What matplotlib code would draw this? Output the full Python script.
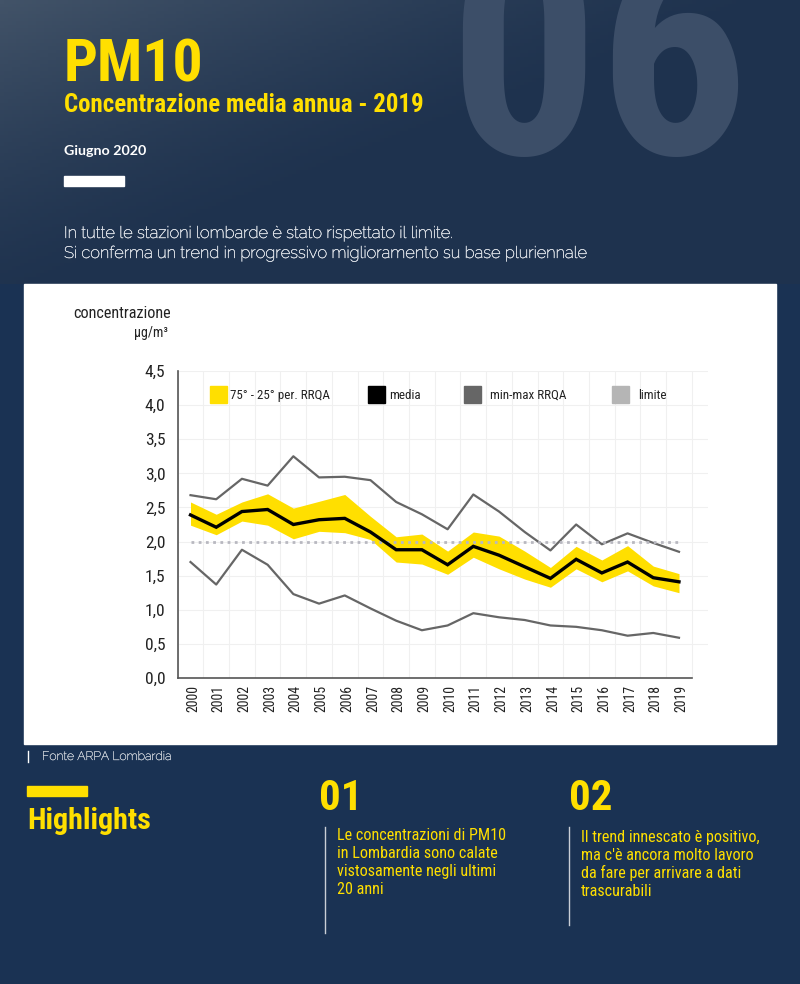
import matplotlib
matplotlib.use('Agg')
import matplotlib.pyplot as plt
import matplotlib.patches as patches
import matplotlib.patheffects as pe
from matplotlib.transforms import ScaledTranslation
import numpy as np

anni = list(range(2000, 2020))
massimo = [2.68, 2.62, 2.92, 2.82, 3.25, 2.94, 2.95, 2.90, 2.58, 2.40, 2.18, 2.69, 2.44, 2.14, 1.87, 2.25, 1.96, 2.12, 1.98, 1.85]
minimo = [1.70, 1.37, 1.88, 1.66, 1.23, 1.09, 1.21, 1.02, 0.84, 0.70, 0.77, 0.95, 0.89, 0.85, 0.77, 0.75, 0.70, 0.62, 0.66, 0.59]
media = [2.39, 2.21, 2.44, 2.47, 2.25, 2.32, 2.34, 2.14, 1.88, 1.88, 1.66, 1.93, 1.80, 1.63, 1.46, 1.74, 1.54, 1.70, 1.47, 1.41]
p75 = [2.58, 2.40, 2.58, 2.70, 2.49, 2.59, 2.69, 2.37, 2.07, 2.11, 1.86, 2.14, 2.08, 1.86, 1.62, 1.93, 1.73, 1.94, 1.64, 1.53]
p25 = [2.24, 2.10, 2.30, 2.24, 2.04, 2.15, 2.13, 2.03, 1.70, 1.67, 1.52, 1.77, 1.60, 1.45, 1.33, 1.60, 1.41, 1.57, 1.35, 1.25]
limite = 2.0
y_ticks = [0, 0.5, 1, 1.5, 2, 2.5, 3, 3.5, 4, 4.5]
y_labels = ['0,0', '0,5', '1,0', '1,5', '2,0', '2,5', '3,0', '3,5', '4,0', '4,5']

NARROW = ['Roboto Condensed', 'Barlow Condensed', 'Roboto']
BODY = ['Raleway', 'Lato']
YELLOW = '#ffdf00'
NAVY = '#1a3253'
W, H = 800, 984

fig = plt.figure(figsize=(W / 100, H / 100), dpi=100, facecolor=NAVY)

# pixel coordinate layer for the page around the chart
bg = fig.add_axes([0, 0, 1, 1])
bg.axis('off')

# header gradient, lighter at the top left
gx, gy = np.meshgrid(np.linspace(0, 1, 200), np.linspace(0, 1, 80))
shade = np.clip(1 - (1.0 * gx + 0.9 * gy), 0, 1) ** 1.4
c0 = np.array([0x1e, 0x32, 0x4e]) / 255
c1 = np.array([0x42, 0x53, 0x68]) / 255
grad = c0 + (c1 - c0) * shade[..., None]
bg.imshow(grad, extent=[0, W, 284, 0], aspect='auto', zorder=0)
bg.set_xlim(0, W)
bg.set_ylim(H, 0)

# Raleway comes out very thin here, a small stroke brings it closer
chiaro = '#dde1e7'
spesso = [pe.withStroke(linewidth=0.3, foreground=chiaro)]

bg.text(448, 154, '06', family=NARROW, weight='bold', fontsize=214, color='#3c4e68', va='baseline', zorder=1)
bg.text(64, 82, 'PM10', family=NARROW, weight='bold', fontsize=43, color=YELLOW, va='baseline', zorder=2)
bg.text(64, 112, 'Concentrazione media annua - 2019', family=NARROW, weight='bold', fontsize=17.9, color=YELLOW, va='baseline', zorder=2)
bg.text(64, 155, 'Giugno 2020', family='Lato', weight='bold', fontsize=10.3, color='white', va='baseline', zorder=2)
bg.add_patch(patches.Rectangle((64, 176), 60, 10, color='white', zorder=2))
bg.text(64, 238, 'In tutte le stazioni lombarde è stato rispettato il limite.', family=BODY, fontsize=11.9, color=chiaro, va='baseline', zorder=2, path_effects=spesso)
bg.text(64, 258, 'Si conferma un trend in progressivo miglioramento su base pluriennale', family=BODY, fontsize=11.9, color=chiaro, va='baseline', zorder=2, path_effects=spesso)

# white chart card
bg.add_patch(patches.Rectangle((24, 284), 752, 460, color='white', zorder=2))
bg.text(171, 318, 'concentrazione', family=NARROW, fontsize=11.6, color='#222222', ha='right', va='baseline', zorder=3)
bg.text(168, 337, 'µg/m³', family=NARROW, fontsize=10, color='#222222', ha='right', va='baseline', zorder=3)

# footer
bg.plot([28, 28], [751, 762], color='white', lw=1, zorder=2)
bg.text(42, 760, 'Fonte ARPA Lombardia', family=BODY, fontsize=8.8, color='#c8ced6', va='baseline', path_effects=[pe.withStroke(linewidth=0.25, foreground='#c8ced6')])
bg.add_patch(patches.Rectangle((27, 786), 60, 10, color=YELLOW))
bg.text(27, 829, 'Highlights', family=NARROW, weight='bold', fontsize=21.7, color=YELLOW, va='baseline')
bg.text(319, 810, '01', family=NARROW, weight='bold', fontsize=31, color=YELLOW, va='baseline')
bg.text(569, 810, '02', family=NARROW, weight='bold', fontsize=31, color=YELLOW, va='baseline')
bg.plot([324.5, 324.5], [827, 933], color='#c9ced6', lw=1)
bg.plot([568.5, 568.5], [827, 925], color='#c9ced6', lw=1)
for i, riga in enumerate(['Le concentrazioni di PM10', 'in Lombardia sono calate', 'vistosamente negli ultimi', '20 anni']):
    bg.text(337, 840 + i * 18, riga, family=NARROW, fontsize=11.6, color=YELLOW, va='baseline')
for i, riga in enumerate(['Il trend innescato è positivo,', "ma c'è ancora molto lavoro", 'da fare per arrivare a dati', 'trascurabili']):
    bg.text(581, 842 + i * 18, riga, family=NARROW, fontsize=11.6, color=YELLOW, va='baseline')

# chart
left, right, top, bottom = 178, 708, 371, 678
ax = fig.add_axes([left / W, 1 - bottom / H, (right - left) / W, (bottom - top) / H])
ax.patch.set_alpha(0)
step = 25.7
ax.set_xlim(2000 - (190.5 - left) / step, 2019 + (right - 679) / step)
ax.set_ylim(0, 4.5)
ax.set_yticks(y_ticks)
ax.set_yticklabels(y_labels, family=NARROW, fontsize=12.5, color='#222222')
ax.set_xticks(anni)
ax.set_xticklabels(anni, rotation=90, family=NARROW, fontsize=10, color='#222222')
ax.tick_params(axis='both', length=0)
ax.tick_params(axis='y', pad=9)
ax.tick_params(axis='x', pad=5)
for lab in ax.get_xticklabels():
    lab.set_transform(lab.get_transform() + ScaledTranslation(2.5 / 100, 0, fig.dpi_scale_trans))
for y in y_ticks[1:]:
    ax.axhline(y, color='#f0f0f0', lw=0.8, zorder=0)
for x in np.arange(1999.5, 2020.5, 1):
    ax.plot([x, x], [0, 4.5], color='#f0f0f0', lw=0.8, zorder=0)
for s in ['top', 'right']:
    ax.spines[s].set_visible(False)
ax.spines['left'].set_color('#555555')
ax.spines['left'].set_linewidth(1.2)
ax.spines['bottom'].set_color('#555555')
ax.spines['bottom'].set_linewidth(1.2)
ax.spines['bottom'].set_bounds(ax.get_xlim()[0], 2019.5)

ax.fill_between(anni, p25, p75, color=YELLOW, lw=0, zorder=2)
ax.plot(anni, massimo, color='#666666', lw=1.6, zorder=3)
ax.plot(anni, minimo, color='#666666', lw=1.6, zorder=3)
ax.plot([2000, 2019], [limite, limite], color='#b8b8c0', lw=2, ls=(0, (1, 1.6)), zorder=4)
ax.plot(anni, media, color='black', lw=2.4, zorder=5, solid_joinstyle='miter')

# legend on its own layer, above the gridlines
top_layer = fig.add_axes([0, 0, 1, 1], zorder=5)
top_layer.patch.set_alpha(0)
top_layer.axis('off')
top_layer.set_xlim(0, W)
top_layer.set_ylim(H, 0)
voci = [(210, '75° - 25° per. RRQA', YELLOW, 230), (368, 'media', 'black', 389), (464, 'min-max RRQA', '#666666', 490), (612, 'limite', '#b5b5b5', 638)]
for x, testo, colore, tx in voci:
    top_layer.add_patch(patches.Rectangle((x, 386), 17, 17, color=colore))
    top_layer.text(tx, 399, testo, family=NARROW, fontsize=9.4, color='#222222', va='baseline')

fig.savefig('out.png', dpi=100)
